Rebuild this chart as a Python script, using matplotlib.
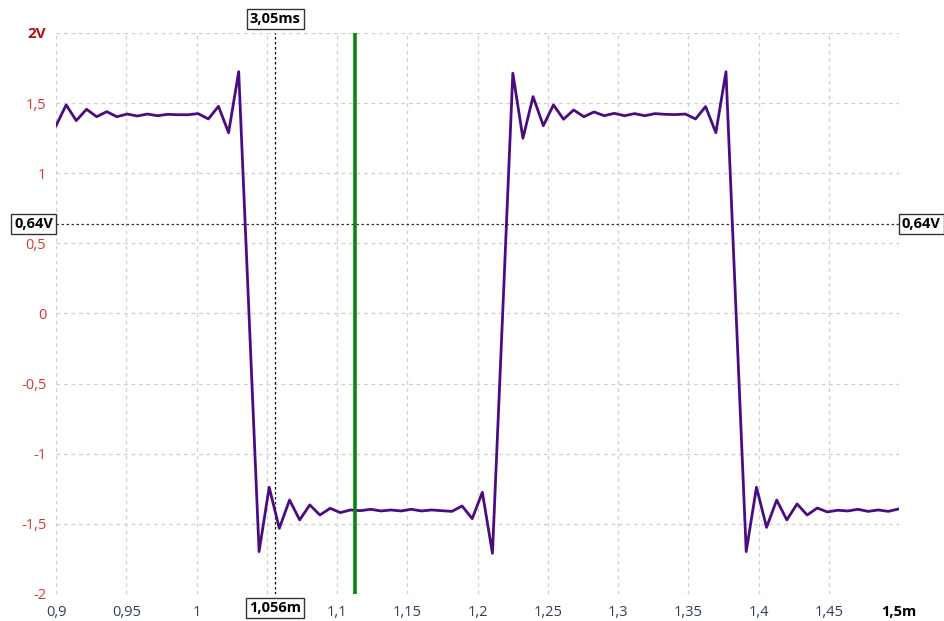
import matplotlib
matplotlib.use("Agg")
import matplotlib.pyplot as plt

plt.rcParams['font.family'] = ['Open Sans', 'DejaVu Sans']

# sample times (ms) and voltages
time_ms = [0.9000, 0.9072, 0.9144, 0.9217, 0.9289, 0.9361, 0.9433, 0.9506, 0.9578, 0.9650,
           0.9722, 0.9795, 0.9867, 0.9939, 1.0011, 1.0084, 1.0156, 1.0228, 1.0300, 1.0373,
           1.0445, 1.0517, 1.0589, 1.0662, 1.0734, 1.0806, 1.0878, 1.0951, 1.1023, 1.1095,
           1.1167, 1.1240, 1.1312, 1.1384, 1.1456, 1.1528, 1.1601, 1.1673, 1.1745, 1.1817,
           1.1890, 1.1962, 1.2034, 1.2106, 1.2179, 1.2251, 1.2323, 1.2395, 1.2468, 1.2540,
           1.2612, 1.2684, 1.2757, 1.2829, 1.2901, 1.2973, 1.3046, 1.3118, 1.3190, 1.3262,
           1.3335, 1.3407, 1.3479, 1.3551, 1.3623, 1.3696, 1.3768, 1.3840, 1.3912, 1.3985,
           1.4057, 1.4129, 1.4201, 1.4274, 1.4346, 1.4418, 1.4490, 1.4563, 1.4635, 1.4707,
           1.4779, 1.4852, 1.4924, 1.4996]
volts = [1.339, 1.487, 1.375, 1.456, 1.403, 1.439, 1.403, 1.422, 1.408, 1.422,
         1.410, 1.420, 1.417, 1.417, 1.425, 1.387, 1.477, 1.289, 1.724, 0.005,
         -1.698, -1.239, -1.532, -1.330, -1.472, -1.365, -1.437, -1.389, -1.420, -1.401,
         -1.406, -1.396, -1.408, -1.401, -1.408, -1.396, -1.408, -1.401, -1.406, -1.411,
         -1.373, -1.463, -1.275, -1.710, 0.005, 1.713, 1.249, 1.546, 1.339, 1.487,
         1.385, 1.451, 1.403, 1.437, 1.410, 1.427, 1.410, 1.425, 1.410, 1.425,
         1.420, 1.418, 1.422, 1.387, 1.475, 1.289, 1.724, 0.005, -1.698, -1.239,
         -1.525, -1.330, -1.472, -1.358, -1.437, -1.387, -1.415, -1.403, -1.408, -1.396,
         -1.411, -1.401, -1.411, -1.394]

x_ticks = [0.9, 0.95, 1.0, 1.05, 1.1, 1.15, 1.2, 1.25, 1.3, 1.35, 1.4, 1.45, 1.5]
# the 1,05 label sits under the cursor readout box, so it is left blank
x_labels = ['0,9', '0,95', '1', '', '1,1', '1,15', '1,2', '1,25', '1,3', '1,35',
            '1,4', '1,45', '1,5m']
y_ticks = [-2, -1.5, -1, -0.5, 0, 0.5, 1, 1.5, 2]
y_labels = ['-2', '-1,5', '-1', '-0,5', '0', '0,5', '1', '1,5', '2V']

cursor_t = 1.056      # dotted time cursor
cursor_v = 0.64       # dotted level cursor
marker_t = 1.1128     # green marker
cursor_t_text = '1,056m'
cursor_dt_text = '3,05ms'
cursor_v_text = '0,64V'

fig = plt.figure(figsize=(9.45, 6.21), dpi=100)
ax = fig.add_axes([0.0593, 0.0435, 0.8921, 0.9034])

ax.plot(time_ms, volts, color='#4b0c82', lw=2.0, zorder=3)
ax.axvline(marker_t, color='#0a870a', lw=2.6, zorder=4)
ax.axvline(cursor_t, color='black', lw=0.9, ls=(0, (2, 2)), zorder=2)
ax.axhline(cursor_v, color='#333333', lw=0.9, ls=(0, (2, 2)), zorder=2)

ax.set_xlim(0.9, 1.5)
ax.set_ylim(-2, 2)
ax.set_xticks(x_ticks)
ax.set_xticklabels(x_labels)
ax.set_yticks(y_ticks)
ax.set_yticklabels(y_labels)
ax.grid(True, color='#cfcfcf', lw=0.9, ls=(0, (3, 3)))
ax.set_axisbelow(True)
for s in ax.spines.values():
    s.set_visible(False)

ax.tick_params(axis='both', length=0, labelsize=10.5)
ax.tick_params(axis='x', pad=8, labelcolor='#2f3f55')
ax.tick_params(axis='y', pad=7, labelcolor='#cf3b34')
xl = ax.get_xticklabels()
xl[-1].set_fontweight('bold')
xl[-1].set_color('black')
yl = ax.get_yticklabels()
yl[-1].set_fontweight('bold')
yl[-1].set_color('#b01010')
yl[-1].set_fontsize(11)

box = dict(boxstyle='square,pad=0.2', fc='white', ec='#333333', lw=1)
kw = dict(fontsize=10.5, fontweight='bold', color='black', bbox=box,
          textcoords='offset points', ha='center', va='center', zorder=10,
          annotation_clip=False)
ax.annotate(cursor_dt_text, xy=(cursor_t, 1), xycoords=('data', 'axes fraction'),
            xytext=(0, 10), **kw)
ax.annotate(cursor_t_text, xy=(cursor_t, 0), xycoords=('data', 'axes fraction'),
            xytext=(0, -10), **kw)
ax.annotate(cursor_v_text, xy=(0, cursor_v), xycoords=('axes fraction', 'data'),
            xytext=(-16, 0), **kw)
ax.annotate(cursor_v_text, xy=(1, cursor_v), xycoords=('axes fraction', 'data'),
            xytext=(16, 0), **kw)

fig.savefig('out.png', dpi=100)
plt.close(fig)
